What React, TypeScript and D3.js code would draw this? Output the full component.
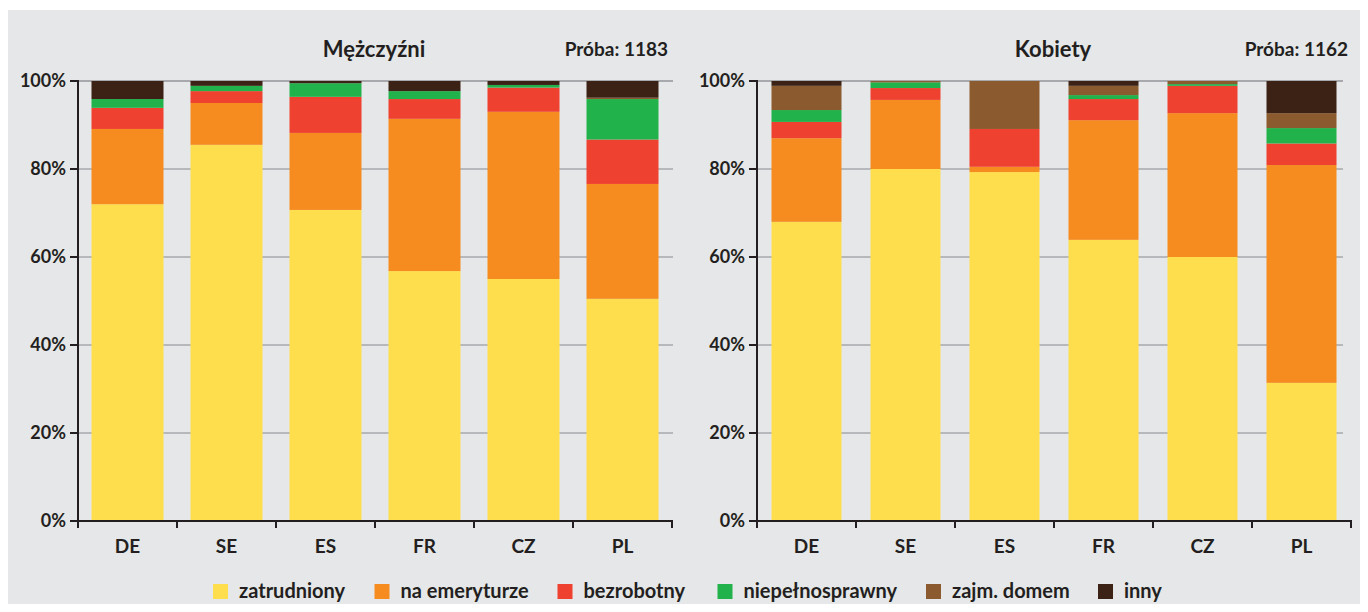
import React, { useEffect, useRef } from "react";
import * as d3 from "d3";

const categories = ["DE", "SE", "ES", "FR", "CZ", "PL"];
const seriesNames = ["zatrudniony", "na emeryturze", "bezrobotny", "niepełnosprawny", "zajm. domem", "inny"];
const seriesColors = ["#ffde4d", "#f68b1f", "#ef412f", "#22b24c", "#8b5a2e", "#3c2215"];
const yTicks = [0, 20, 40, 60, 80, 100];

// Mężczyźni values per series (order of categories)
const menZatrudniony = [72.0, 85.5, 70.7, 56.8, 55.0, 50.5];
const menEmeryturze = [17.1, 9.5, 17.5, 34.6, 38.0, 26.1];
const menBezrobotny = [4.8, 2.7, 8.2, 4.5, 5.5, 10.1];
const menNiepelnosprawny = [2.0, 1.2, 3.1, 1.8, 0.6, 9.2];
const menDomem = [0, 0, 0, 0, 0, 0.3];
const menInny = [4.1, 1.1, 0.5, 2.3, 0.9, 3.8];

// Kobiety
const womenZatrudniony = [68.0, 80.0, 79.3, 63.9, 60.0, 31.4];
const womenEmeryturze = [19.0, 15.7, 1.2, 27.2, 32.7, 49.5];
const womenBezrobotny = [3.7, 2.7, 8.6, 4.8, 6.2, 4.9];
const womenNiepelnosprawny = [2.7, 1.3, 0, 0.9, 0.4, 3.5];
const womenDomem = [5.5, 0.3, 10.9, 2.1, 0.7, 3.4];
const womenInny = [1.1, 0, 0, 1.1, 0, 7.3];

const panels = [
  {
    title: "Mężczyźni",
    sample: "Próba: 1183",
    series: [menZatrudniony, menEmeryturze, menBezrobotny, menNiepelnosprawny, menDomem, menInny],
  },
  {
    title: "Kobiety",
    sample: "Próba: 1162",
    series: [womenZatrudniony, womenEmeryturze, womenBezrobotny, womenNiepelnosprawny, womenDomem, womenInny],
  },
];

const W = 1368;
const H = 612;
const FONT = "Lato, 'Open Sans', sans-serif";
const INK = "#231f20";

export default function App() {
  const ref = useRef<SVGSVGElement | null>(null);

  useEffect(() => {
    const svg = d3.select(ref.current);
    svg.selectAll("*").remove();

    svg.append("rect").attr("x", 7).attr("y", 10).attr("width", W - 7).attr("height", H - 10).attr("fill", "#e6e7e8");

    const layouts = [
      { x0: 78, x1: 672, gridEnd: 673, barW: 72 },
      { x0: 757, x1: 1351, gridEnd: 1343, barW: 70 },
    ];
    const yTop = 81;
    const yBot = 521;

    panels.forEach((p, pi) => {
      const L = layouts[pi];
      const g = svg.append("g");
      const x = d3.scaleBand<string>().domain(categories).range([L.x0, L.x1]);
      const y = d3.scaleLinear().domain([0, 100]).range([yBot, yTop]);

      g.selectAll("line.grid")
        .data(yTicks.filter((t) => t > 0))
        .join("line")
        .attr("x1", L.x0)
        .attr("x2", L.gridEnd)
        .attr("y1", (d) => y(d))
        .attr("y2", (d) => y(d))
        .attr("stroke", "#a7a9ac")
        .attr("stroke-width", (d) => (d === 100 ? 2 : 1.3));

      const rows = categories.map((c, ci) => {
        const r: any = { cat: c };
        seriesNames.forEach((s, si) => (r[s] = p.series[si][ci]));
        return r;
      });
      const stacked = d3.stack().keys(seriesNames)(rows);
      stacked.forEach((layer, li) => {
        g.selectAll(`rect.s${li}`)
          .data(layer)
          .join("rect")
          .attr("x", (d: any) => (x(d.data.cat) as number) + (x.bandwidth() - L.barW) / 2)
          .attr("width", L.barW)
          .attr("y", (d) => y(d[1]))
          .attr("height", (d) => Math.max(0, y(d[0]) - y(d[1])))
          .attr("fill", seriesColors[li]);
      });

      g.append("line").attr("x1", L.x0).attr("x2", L.x0).attr("y1", yTop - 1).attr("y2", yBot + 7).attr("stroke", INK).attr("stroke-width", 2);
      g.selectAll("line.yt")
        .data(yTicks)
        .join("line")
        .attr("x1", L.x0 - 8)
        .attr("x2", L.x0)
        .attr("y1", (d) => y(d))
        .attr("y2", (d) => y(d))
        .attr("stroke", INK)
        .attr("stroke-width", 2);
      g.selectAll("text.yl")
        .data(yTicks)
        .join("text")
        .attr("x", L.x0 - 12)
        .attr("y", (d) => y(d))
        .attr("dy", "0.36em")
        .attr("text-anchor", "end")
        .attr("font-family", FONT)
        .attr("font-weight", 700)
        .attr("font-size", 18)
        .attr("fill", INK)
        .text((d) => `${d}%`);

      g.append("line").attr("x1", L.x0 - 8).attr("x2", L.x1 + 1).attr("y1", yBot).attr("y2", yBot).attr("stroke", INK).attr("stroke-width", 2);
      const bounds = categories.map((c) => x(c) as number).concat([L.x1]);
      g.selectAll("line.xt")
        .data(bounds)
        .join("line")
        .attr("x1", (d) => d)
        .attr("x2", (d) => d)
        .attr("y1", yBot)
        .attr("y2", yBot + 7)
        .attr("stroke", INK)
        .attr("stroke-width", 2);
      g.selectAll("text.xl")
        .data(categories)
        .join("text")
        .attr("x", (d) => (x(d) as number) + x.bandwidth() / 2)
        .attr("y", 553)
        .attr("text-anchor", "middle")
        .attr("font-family", FONT)
        .attr("font-weight", 700)
        .attr("font-size", 19)
        .attr("fill", INK)
        .text((d) => d);

      g.append("text")
        .attr("x", (L.x0 + L.x1) / 2 - 1)
        .attr("y", 57)
        .attr("text-anchor", "middle")
        .attr("font-family", FONT)
        .attr("font-weight", 700)
        .attr("font-size", 22)
        .attr("fill", INK)
        .text(p.title);
      g.append("text")
        .attr("x", pi === 0 ? 668 : 1348)
        .attr("y", 56)
        .attr("text-anchor", "end")
        .attr("font-family", FONT)
        .attr("font-weight", 700)
        .attr("font-size", 19)
        .attr("fill", INK)
        .text(p.sample);
    });

    const lg = svg.append("g");
    const swatchX = [213, 374.5, 557.5, 717.5, 926, 1098];
    seriesNames.forEach((s, i) => {
      lg.append("rect").attr("x", swatchX[i]).attr("y", 584).attr("width", 15).attr("height", 15).attr("fill", seriesColors[i]);
      lg.append("text")
        .attr("x", swatchX[i] + 26)
        .attr("y", 598)
        .attr("font-family", FONT)
        .attr("font-weight", 700)
        .attr("font-size", 20)
        .attr("fill", INK)
        .text(s);
    });
  }, []);

  return <svg ref={ref} width={W} height={H} style={{ display: "block", margin: "-8px" }} />;
}
